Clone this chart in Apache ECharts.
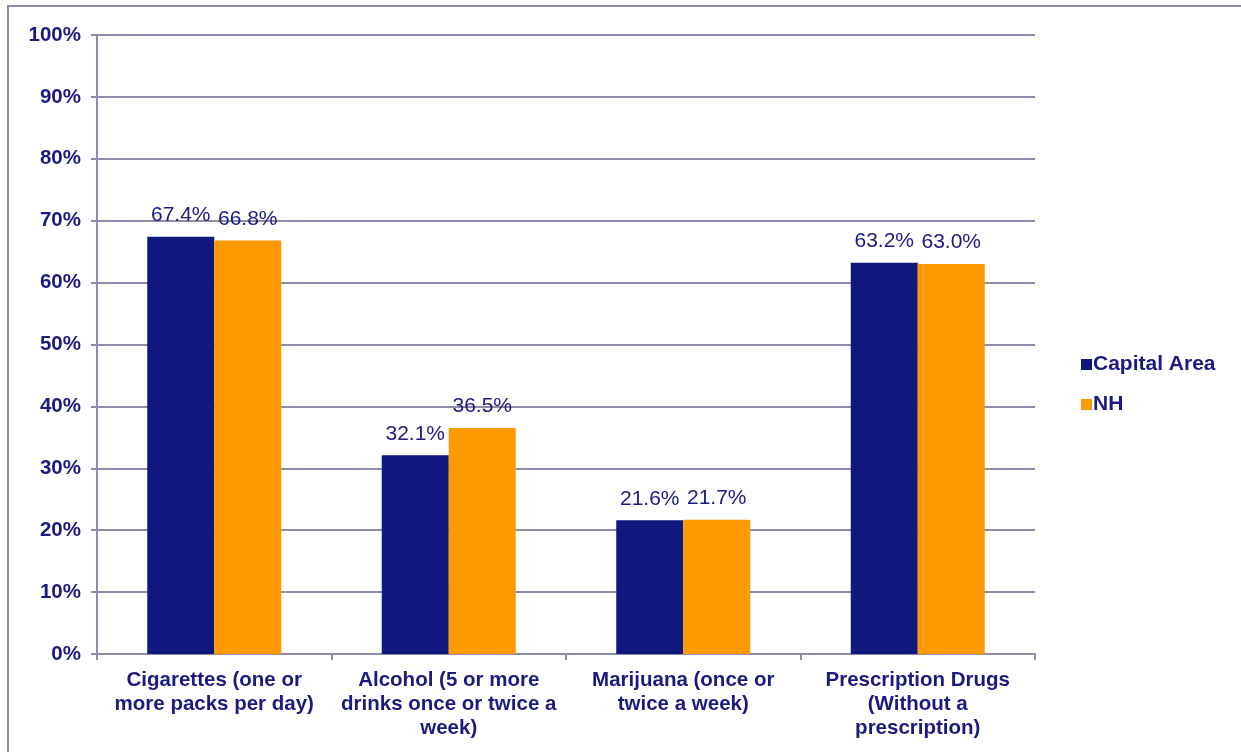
<!DOCTYPE html>
<html><head><meta charset="utf-8">
<script src="https://cdn.jsdelivr.net/npm/echarts@6/dist/echarts.min.js"></script>
<style>html,body{margin:0;padding:0;background:#fff}#c{width:1241px;height:752px}</style>
</head><body><div id="c"></div>
<script>
const categories = [
  "Cigarettes (one or\nmore packs per day)",
  "Alcohol (5 or more\ndrinks once or twice a\nweek)",
  "Marijuana (once or\ntwice a week)",
  "Prescription Drugs\n(Without a\nprescription)"
];
const capitalArea = [67.4, 32.1, 21.6, 63.2];
const nh = [66.8, 36.5, 21.7, 63.0];
const seriesNames = ["Capital Area", "NH"];

const navy = '#10177d';
const text = '#1a1a80';
const axisCol = '#8c8cab';
const ff = 'Liberation Sans, Arial';
const chart = echarts.init(document.getElementById('c'), null, {renderer: 'canvas'});
const labelCfg = {
  show: true, position: 'top', distance: 11,
  color: text, fontFamily: ff, fontSize: 21,
  formatter: p => p.value.toFixed(1) + '%'
};
chart.setOption({
  animation: false,
  graphic: [{
    type: 'rect', shape: {x: 8, y: 6, width: 1250, height: 760},
    style: {fill: 'none', stroke: axisCol, lineWidth: 2}, silent: true
  }],
  grid: {left: 97, right: 206, top: 35, bottom: 98, containLabel: false},
  legend: {
    orient: 'vertical', left: 1076, top: 349, itemGap: 19,
    itemWidth: 11, itemHeight: 11, icon: 'rect',
    textStyle: {color: text, fontFamily: ff, fontSize: 21, fontWeight: 'bold', padding: [0,0,0,-4]},
    data: seriesNames
  },
  xAxis: {
    type: 'category', data: categories,
    axisLine: {lineStyle: {color: axisCol, width: 2}},
    axisTick: {show: true, length: 6, lineStyle: {color: axisCol, width: 2}},
    axisLabel: {color: text, fontFamily: ff, fontSize: 20.5, fontWeight: 'bold', lineHeight: 24, margin: 14, interval: 0}
  },
  yAxis: {
    type: 'value', min: 0, max: 100, interval: 10,
    axisLine: {show: true, lineStyle: {color: axisCol, width: 2}},
    axisTick: {show: true, length: 6, lineStyle: {color: axisCol, width: 2}},
    splitLine: {lineStyle: {color: axisCol, width: 2}},
    axisLabel: {color: text, fontFamily: ff, fontSize: 20.5, fontWeight: 'bold', margin: 16, formatter: '{value}%'}
  },
  series: [
    {name: seriesNames[0], type: 'bar', data: capitalArea, barWidth: 67, barGap: '0%',
     itemStyle: {color: navy}, label: labelCfg},
    {name: seriesNames[1], type: 'bar', data: nh, barWidth: 67,
     itemStyle: {color: '#ff9900'}, label: labelCfg}
  ]
});
</script></body></html>
